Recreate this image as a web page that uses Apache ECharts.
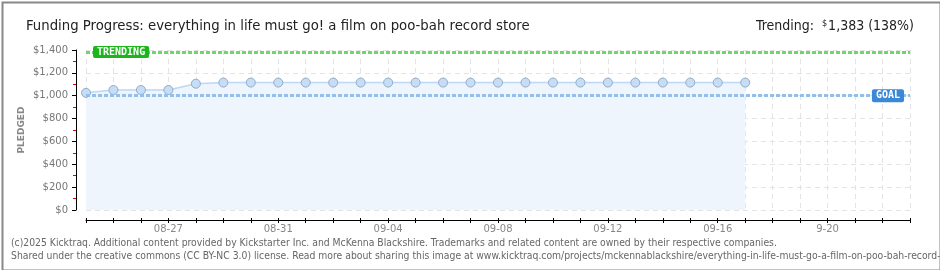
<!DOCTYPE html>
<html><head><meta charset="utf-8">
<script src="https://cdn.jsdelivr.net/npm/echarts@6/dist/echarts.min.js"></script>
<style>html,body{margin:0;padding:0;background:#fff}#c{width:940px;height:270px}</style>
</head><body><div id="c"></div>
<script>
const categories = ['08-24','08-25','08-26','08-27','08-28','08-29','08-30','08-31',
  '09-01','09-02','09-03','09-04','09-05','09-06','09-07','09-08','09-09','09-10',
  '09-11','09-12','09-13','09-14','09-15','09-16','09-17','09-18','09-19','9-20',
  '09-21','09-22','09-23'];
const pledged = [1025,1050,1050,1050,1105,1115,1115,1115,1115,1115,1115,1115,1115,
  1115,1115,1115,1115,1115,1115,1115,1115,1115,1115,1115,1115];
const goal = 1000;
const trending = 1383;
const titleText = 'Funding Progress: everything in life must go! a film on poo-bah record store';
const footer1 = '(c)2025 Kicktraq. Additional content provided by Kickstarter Inc. and McKenna Blackshire. Trademarks and related content are owned by their respective companies.';
const footer2 = 'Shared under the creative commons (CC BY-NC 3.0) license. Read more about sharing this image at www.kicktraq.com/projects/mckennablackshire/everything-in-life-must-go-a-film-on-poo-bah-record-store/';

const narrow = "'Liberation Sans Narrow', 'DejaVu Sans Condensed', sans-serif";
const chart = echarts.init(document.getElementById('c'), null, {renderer: 'canvas'});
const pct = Math.round(trending / goal * 100);
const fmt = v => '$' + v.toLocaleString('en-US');

const xBase = {
  type: 'category', data: categories, boundaryGap: false, position: 'bottom', offset: 10
};

chart.setOption({
  animation: false,
  backgroundColor: '#fff',
  title: [
    {text: titleText, left: 21, top: 14,
     textStyle: {fontFamily: narrow, fontSize: 14.75, fontWeight: 'normal', color: '#222'}},
    {text: '{a|Trending:  }{s|$}{a|' + trending.toLocaleString('en-US') + ' (' + pct + '%)}',
     right: 21, top: 14,
     textStyle: {fontWeight: 'normal', rich: {
       a: {fontFamily: narrow, fontSize: 14, fontWeight: 'normal', color: '#222'},
       s: {fontFamily: narrow, fontSize: 9, fontWeight: 'normal', color: '#222', verticalAlign: 'top', padding: [0,1,6,0]}
     }}}
  ],
  grid: {left: 86, right: 30, top: 50, bottom: 60, containLabel: false},
  xAxis: [
    Object.assign({}, xBase, {
      axisLine: {show: true, onZero: false, lineStyle: {color: '#000', width: 1}},
      axisTick: {show: true, interval: 0, length: 3, lineStyle: {color: '#000'}},
      axisLabel: {interval: (i) => i % 4 === 3, color: '#888', fontFamily: 'DejaVu Sans', fontSize: 10, margin: 4},
      splitLine: {show: true, interval: 0, lineStyle: {color: '#e4e4e4', type: [5,4], width: 1}}
    }),
    Object.assign({}, xBase, {
      axisLine: {show: false, onZero: false},
      axisTick: {show: true, inside: true, interval: 0, length: 2, lineStyle: {color: '#000'}},
      axisLabel: {show: false},
      splitLine: {show: false}
    })
  ],
  yAxis: {
    type: 'value', min: 0, max: 1400, interval: 200, offset: 10,
    name: 'PLEDGED', nameLocation: 'middle', nameGap: 50, nameMoveOverlap: false,
    nameTextStyle: {fontFamily: 'DejaVu Sans', fontSize: 9, fontWeight: 'bold', color: '#888'},
    axisLine: {show: true, onZero: false, lineStyle: {color: '#000', width: 1}},
    axisTick: {show: true, length: 4, lineStyle: {color: '#000'}},
    minorTick: {show: true, splitNumber: 2, length: 3, lineStyle: {color: '#e00000', width: 1}},
    axisLabel: {formatter: fmt, color: '#777', fontFamily: 'DejaVu Sans', fontSize: 10, margin: 8},
    splitLine: {show: true, lineStyle: {color: '#e4e4e4', type: [5,4], width: 1}}
  },
  series: [{
    type: 'line', data: pledged, xAxisIndex: 0,
    symbol: 'circle', symbolSize: 9,
    lineStyle: {color: '#bcd8f4', width: 1.5},
    itemStyle: {color: '#c6ddf5', borderColor: '#92acc8', borderWidth: 1},
    areaStyle: {color: '#eef5fd', opacity: 1},
    z: 3,
    markLine: {
      silent: true, symbol: 'none', animation: false,
      data: [
        {yAxis: trending,
         lineStyle: {color: '#6cd86c', type: [4,2], width: 3, cap: 'butt'},
         label: {show: true, position: 'insideStartTop', distance: 0, offset: [7, 6],
           formatter: 'TRENDING', color: '#fff', fontFamily: 'DejaVu Sans Mono', fontSize: 10,
           fontWeight: 'bold', lineHeight: 10, backgroundColor: '#1cb51c', padding: [1,4], borderRadius: 2}},
        {yAxis: goal,
         lineStyle: {color: '#92bfec', type: [4,2], width: 3, cap: 'butt'},
         label: {show: true, position: 'insideEndTop', distance: 0, offset: [-6, 6.5],
           formatter: 'GOAL', color: '#fff', fontFamily: 'DejaVu Sans Mono', fontSize: 10,
           fontWeight: 'bold', lineHeight: 11, backgroundColor: '#3a88d6', padding: [1,4], borderRadius: 2}}
      ]
    }
  }],
  graphic: [
    {type: 'text', left: 11, top: 238, style: {text: footer1, fill: '#666', font: '10.3px ' + narrow}},
    {type: 'text', left: 11, top: 251, style: {text: footer2, fill: '#666', font: '10.3px ' + narrow}},
    {type: 'rect', left: 0, top: 0, shape: {x: 0, y: 0, width: 938, height: 268},
     style: {fill: 'none', stroke: '#888', lineWidth: 2}, silent: true, z: 100}
  ]
});
</script></body></html>
